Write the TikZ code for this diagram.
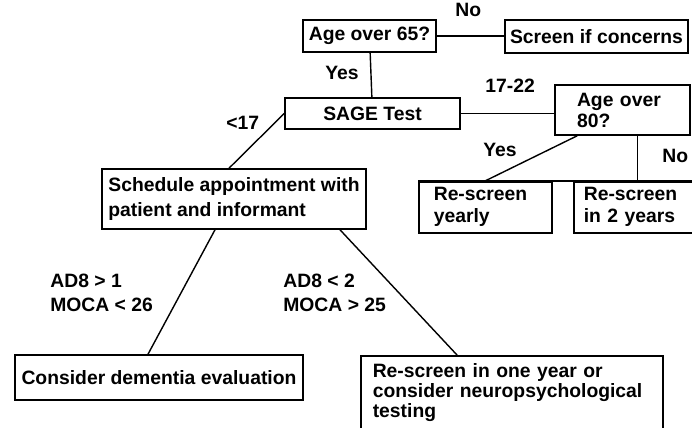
\documentclass[tikz,border=0pt]{standalone}
\usepackage{fontspec}
\setmainfont{Liberation Sans}
\usetikzlibrary{positioning, calc}

\begin{document}
\begin{tikzpicture}[
    x=0.02cm, y=-0.02cm,
    box/.style={rectangle, draw, line width=0.9pt, align=left, font=\bfseries\fontsize{11}{13}\selectfont, inner sep=3pt},
    lbl/.style={align=left, font=\bfseries\fontsize{11}{14}\selectfont, inner sep=0pt, anchor=base west},
    link/.style={line width=0.8pt}
]
    \useasboundingbox (0,0) rectangle (692,428);

    \node[box, minimum width=2.66cm, minimum height=0.64cm] (age65) at (369.5,36) {Age over 65?};
    \node[box, minimum width=3.62cm, minimum height=0.66cm] (concern) at (596.5,36.5) {Screen if concerns};
    \node[box, minimum width=3.5cm, minimum height=0.62cm, align=center] (sage) at (372.5,113.5) {SAGE Test};
    \node[box, text width=1.82cm, inner xsep=0.44cm, minimum height=1cm, font=\bfseries\fontsize{11}{12}\selectfont] (age80) at (622.5,110) {Age over\\80?};
    \node[box, minimum width=5.28cm, minimum height=1.2cm, font=\bfseries\fontsize{11}{14.2}\selectfont] (sched) at (234,199) {Schedule appointment with\\patient and informant};
    \node[box, text width=2.06cm, inner xsep=0.3cm, minimum height=1.02cm, anchor=north west, font=\bfseries\fontsize{11}{12.5}\selectfont] (yearly) at (418,181) {Re-screen\\yearly};
    \node[box, text width=2.4cm, inner xsep=0.2cm, minimum height=1.02cm, anchor=north west, font=\bfseries\fontsize{11}{12.5}\selectfont] (twoyrs) at (573,181) {Re-screen\\in 2 years};
    \node[box, minimum width=5.76cm, minimum height=0.9cm] (dementia) at (159,377.5) {Consider dementia evaluation};
    \node[box, text width=5.56cm, inner xsep=0.24cm, inner ysep=0.15cm, anchor=north west, font=\bfseries\fontsize{11}{11.4}\selectfont] (oneyear) at (360,355) {Re-screen in one year or\\consider neuropsychological\\testing\\[4pt]\mbox{}};

    % edge labels
    \node[lbl] (no65) at (455,17) {No};
    \node[lbl] (yes65) at (325,80) {Yes};
    \node[lbl] (mid) at (485,93) {17-22};
    \node[lbl] (low) at (226,130) {<17};
    \node[lbl] (yes80) at (483,157) {Yes};
    \node[lbl] (no80) at (662,163) {No};
    \node[lbl] (bad) at (50,312) {AD8 > 1\\MOCA < 26};
    \node[lbl] (good) at (283,312) {AD8 < 2\\MOCA > 25};

    \draw[link] (age65.east) -- (age65.east -| concern.west);
    \draw[link] (age65) -- (sage);
    \draw[link] (sage.east) -- (sage.east -| age80.west);
    \draw[link] (sage.west) -- ($(sched.north)+(-5,0)$);
    \draw[link] ($(age80.south west)+(23,0)$) -- ($(yearly.north west)+(67,0)$);
    \coordinate (split) at ($(age80.south east)+(-53,0)$);
    \draw[link] (split) -- (split |- yearly.north);
    \draw[line width=1.3pt] (yearly.north west) -- (twoyrs.north east);
    \draw[link] ($(sched.south)+(-19,0)$) -- ($(dementia.north)+(-11,0)$);
    \draw[link] ($(sched.south)+(106,0)$) -- ($(oneyear.north west)+(97,0)$);
\end{tikzpicture}
\end{document}
